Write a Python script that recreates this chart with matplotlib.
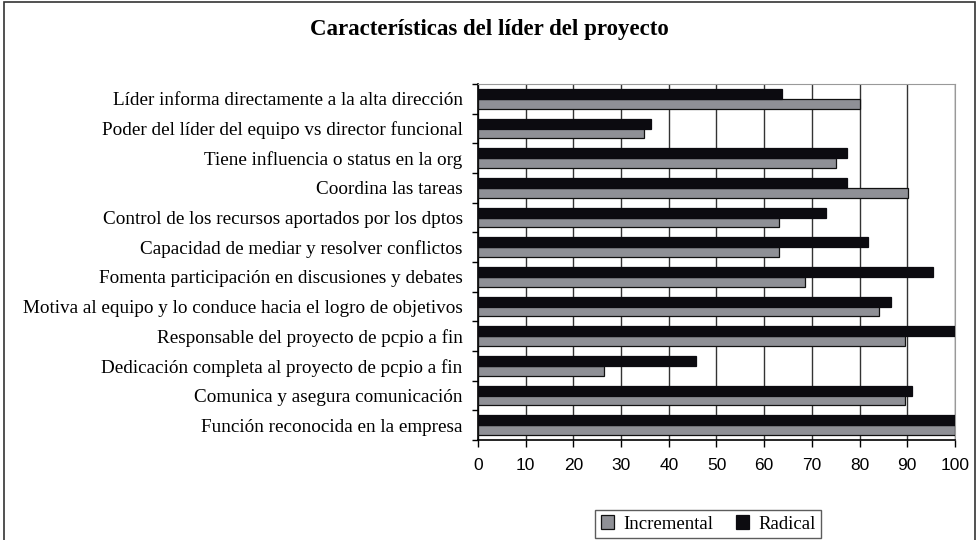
import numpy as np
import matplotlib
matplotlib.use("Agg")
import matplotlib.pyplot as plt
from matplotlib.patches import Rectangle

# Datos (de abajo hacia arriba)
categorias = [
    "Función reconocida en la empresa",
    "Comunica y asegura comunicación",
    "Dedicación completa al proyecto de pcpio a fin",
    "Responsable del proyecto de pcpio a fin",
    "Motiva al equipo y lo conduce hacia el logro de objetivos",
    "Fomenta participación en discusiones y debates",
    "Capacidad de mediar y resolver conflictos",
    "Control de los recursos aportados por los dptos",
    "Coordina las tareas",
    "Tiene influencia o status en la org",
    "Poder del líder del equipo vs director funcional",
    "Líder informa directamente a la alta dirección",
]
incremental = [100, 89.5, 26.5, 89.5, 84.1, 68.5, 63.1, 63.1, 90.1, 75.0, 34.9, 80.0]
radical = [100, 90.9, 45.6, 100, 86.5, 95.3, 81.7, 72.9, 77.3, 77.3, 36.3, 63.7]
xticks = list(range(0, 101, 10))

serif = "Liberation Serif"
sans = "Liberation Sans"

fig = plt.figure(figsize=(9.79, 5.4), dpi=100)
ax = fig.add_axes([478 / 979, 1 - 440 / 540, 477 / 979, 356 / 540])

y = np.arange(len(categorias))
h = 0.33
ax.barh(y - h / 2, incremental, height=h, color="#8f9096", edgecolor="#111111",
        linewidth=0.9, label="Incremental", zorder=3)
ax.barh(y + h / 2, radical, height=h, color="#0c0b10", edgecolor="#0c0b10",
        linewidth=0.9, label="Radical", zorder=3)

ax.set_xlim(0, 100)
ax.set_ylim(-0.5, len(categorias) - 0.5)
ax.set_xticks(xticks)
ax.set_xticklabels([str(t) for t in xticks], fontfamily=sans, fontsize=12.5)
ax.set_yticks(y)
ax.set_yticklabels(categorias, fontfamily=serif, fontsize=13.8)
ax.tick_params(axis="y", length=0, pad=11)
ax.tick_params(axis="x", length=5, direction="out", pad=8, width=1)
# marcas del eje y en los límites de categoría
ax.set_yticks(np.arange(len(categorias) + 1) - 0.5, minor=True)
ax.tick_params(axis="y", which="minor", length=4, width=1, direction="out")

ax.xaxis.grid(True, color="#333333", linewidth=1)
ax.set_axisbelow(True)
for s in ["top", "right"]:
    ax.spines[s].set_color("#999999")
for s in ["left", "bottom"]:
    ax.spines[s].set_color("black")
    ax.spines[s].set_linewidth(1.2)

fig.text(0.5, 1 - 30 / 540, "Características del líder del proyecto",
         ha="center", va="center", fontfamily=serif, fontweight="bold", fontsize=16.5)

handles, labels = ax.get_legend_handles_labels()
leg = fig.legend(handles, labels, loc="center", bbox_to_anchor=(708 / 979, 1 - 524 / 540),
                 ncol=2, frameon=True, fancybox=False, prop={"family": serif, "size": 13.5},
                 handlelength=0.7, handleheight=0.7, handletextpad=0.5, columnspacing=1.2,
                 borderpad=0.3)
leg.get_frame().set_edgecolor("#333333")
leg.get_frame().set_linewidth(1)

fig.patches.append(Rectangle((4 / 979, -0.05), 971 / 979, 1.05 - 1.5 / 540,
                             transform=fig.transFigure, fill=False,
                             edgecolor="#333333", linewidth=1.2))

fig.savefig("out.png", dpi=100)
